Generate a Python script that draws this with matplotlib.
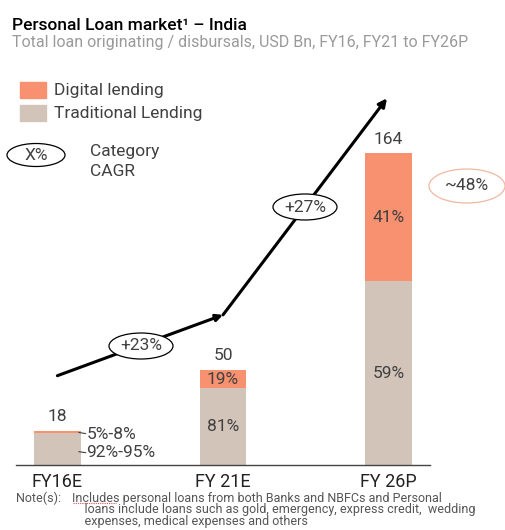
import matplotlib.pyplot as plt
from matplotlib.patches import Ellipse

plt.rcParams['font.family'] = ['Roboto', 'DejaVu Sans']

# data
years = ['FY16E', 'FY 21E', 'FY 26P']
totals = [18, 50, 164]
digital_share = [0.065, 0.19, 0.41]
digital_labels = ['5%-8%', '19%', '41%']
trad_labels = ['92%-95%', '81%', '59%']
cagr_labels = ['+23%', '+27%']
category_cagr = '~48%'

digital = [t * s for t, s in zip(totals, digital_share)]
traditional = [t - d for t, d in zip(totals, digital)]

c_dig = '#F7916F'
c_trad = '#D3C4BA'
c_txt = '#404040'
fs = 12.5

W, H = 505, 530
fig = plt.figure(figsize=(W / 100, H / 100), dpi=100)

def fx(px):
    return px / W

def fy(py):
    return 1 - py / H

# bar axes: baseline at y=465px, x from 16 to 430px
ax = fig.add_axes([fx(16), fy(465), fx(430 - 16), (465 - 85) / H])
ax.set_xlim(-0.25, 2.25)
ax.set_ylim(0, 200)
ax.axis('off')
ax.axhline(0, color='#444444', lw=1.0, xmin=0, xmax=1, clip_on=False)

x = range(len(years))
bw = 0.28
ax.bar(x, traditional, bw, color=c_trad)
ax.bar(x, digital, bw, bottom=traditional, color=c_dig)

for i in x:
    ax.text(i, totals[i] + 3.5, str(totals[i]), ha='center', va='bottom',
            fontsize=fs, color=c_txt)
    ax.text(i, -4, years[i], ha='center', va='top', fontsize=13, color='#222222')
    if i == 0:
        continue
    ax.text(i, traditional[i] + digital[i] / 2, digital_labels[i], ha='center',
            va='center', fontsize=fs, color=c_txt)
    ax.text(i, traditional[i] / 2, trad_labels[i], ha='center', va='center',
            fontsize=fs, color=c_txt)

# small side labels for FY16
ax.plot([0.13, 0.17], [traditional[0] + 0.3, traditional[0] - 0.3], color=c_txt, lw=0.8)
ax.plot([0.13, 0.17], [7.0, 6.5], color=c_txt, lw=0.8)
ax.text(0.175, 16.2, digital_labels[0], ha='left', va='center', fontsize=fs, color=c_txt)
ax.text(0.175, 6.5, trad_labels[0], ha='left', va='center', fontsize=fs, color=c_txt)

# growth arrow
arrow_x = [0, 1, 1.99]
arrow_y = [47, 79, 193]
ax.annotate('', xy=(arrow_x[1], arrow_y[1]), xytext=(arrow_x[0], arrow_y[0]),
            arrowprops=dict(arrowstyle='-|>', color='black', lw=2.2,
                            mutation_scale=10, shrinkA=0, shrinkB=0))
ax.annotate('', xy=(arrow_x[2], arrow_y[2]), xytext=(arrow_x[1], arrow_y[1]),
            arrowprops=dict(arrowstyle='-|>', color='black', lw=2.2,
                            mutation_scale=12, shrinkA=0, shrinkB=0),
            annotation_clip=False)

# CAGR ellipses (figure pixel positions)
def oval(cx, cy, w, h, label, ec='black', size=fs):
    e = Ellipse((fx(cx), fy(cy)), fx(w), h / H, transform=fig.transFigure,
                facecolor='white', edgecolor=ec, lw=0.9, zorder=5)
    fig.patches.append(e)
    fig.text(fx(cx), fy(cy), label, ha='center', va='center', fontsize=size,
             color=c_txt, zorder=6)

oval(141, 346, 64, 26, cagr_labels[0])
oval(305, 207, 64, 26, cagr_labels[1])
oval(467, 186, 76, 34, category_cagr, ec='#F0B8A0')
oval(36, 155, 58, 23, 'X%')

fig.text(fx(90), fy(152), 'Category', ha='left', va='center', fontsize=fs, color=c_txt)
fig.text(fx(90), fy(171), 'CAGR', ha='left', va='center', fontsize=fs, color=c_txt)

# legend
for py, col, lab in [(90, c_dig, 'Digital lending'), (113, c_trad, 'Traditional Lending')]:
    fig.patches.append(plt.Rectangle((fx(20), fy(py + 8)), fx(26), 16 / H,
                                     transform=fig.transFigure, color=col))
    fig.text(fx(54), fy(py), lab, ha='left', va='center', fontsize=fs, color=c_txt)

# titles
fig.text(fx(12), fy(25), 'Personal Loan market\u00b9 \u2013 India', ha='left', va='center',
         fontsize=12.5, fontweight='medium', color='black')
fig.text(fx(12), fy(43), 'Total loan originating / disbursals, USD Bn, FY16, FY21 to FY26P',
         ha='left', va='center', fontsize=11.5, color='#9a9a9a')

# notes
note_c = '#555555'
nfs = 9
fig.text(fx(16), fy(492), 'Note(s):', ha='left', va='top', fontsize=nfs, color=note_c)
fig.text(fx(72), fy(492),
         'Includes personal loans from both Banks and NBFCs and Personal\n'
         '    loans include loans such as gold, emergency, express credit,  wedding\n'
         '    expenses, medical expenses and others',
         ha='left', va='top', fontsize=nfs, color=note_c, linespacing=0.85)
# spell-check style underline under "Includes"
fig.add_artist(plt.Line2D([fx(73), fx(116)], [fy(502.5), fy(502.5)], color='#E05050',
                          lw=0.8, ls=(0, (1, 1))))

fig.savefig('out.png', dpi=100, facecolor='white')
